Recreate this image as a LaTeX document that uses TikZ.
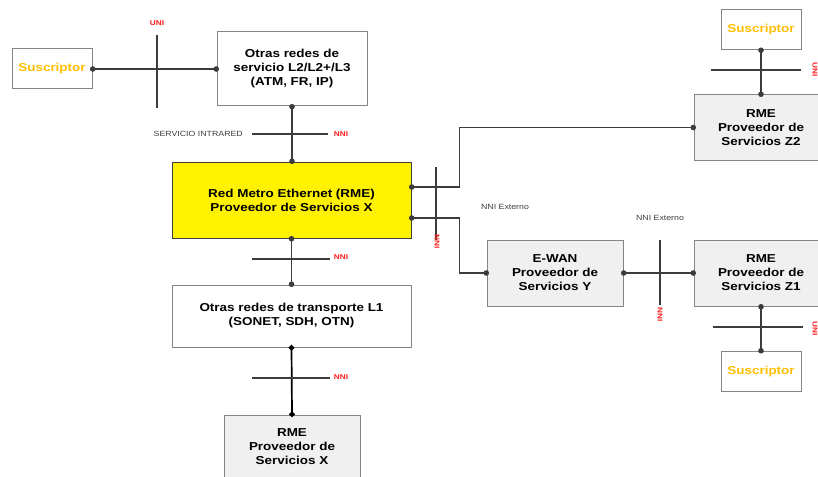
\documentclass[tikz,border=0pt]{standalone}
\usepackage{fontspec}
\setmainfont{Liberation Sans}[FakeStretch=1.17]
\usetikzlibrary{arrows.meta}
\definecolor{boxgray}{HTML}{F0F0F0}
\definecolor{edgegray}{HTML}{858585}
\definecolor{linegray}{HTML}{3C3C3C}
\definecolor{subsgold}{HTML}{FFBF00}
\definecolor{ifacered}{HTML}{FF1A1A}
\begin{document}
\begin{tikzpicture}[x=1pt,y=-1pt,
		every node/.style={align=center,inner sep=0pt},
		box/.style={draw=edgegray,line width=1pt,fill=boxgray,font=\fontsize{11.5}{14}\selectfont\bfseries},
		subs/.style={box,fill=white,text=subsgold,minimum width=80pt,minimum height=40pt},
		link/.style={draw=linegray,line width=1.1pt,{Circle[length=5.5pt]}-{Circle[length=5.5pt]},shorten <=-2.5pt,shorten >=-2.5pt},
		tick/.style={draw=linegray,line width=2pt},
		iface/.style={text=ifacered,font=\fontsize{7}{8}\selectfont\bfseries},
		note/.style={text=linegray,font=\fontsize{7.5}{9}\selectfont}
		]
		\useasboundingbox (0,0) rectangle (818,476);
		\clip (0,0) rectangle (818,476);
		% boxes
		\node[subs] (subsA) at (52,69) {Suscriptor};
		\node[box,fill=white,minimum width=150pt,minimum height=74pt] (otras) at (292,69) {Otras redes de\\servicio L2/L2+/L3\\(ATM, FR, IP)};
		\node[box,fill=yellow,draw=linegray,minimum width=239pt,minimum height=76pt] (rmex) at (291.5,200) {Red Metro Ethernet (RME)\\Proveedor de Servicios X};
		\node[box,fill=white,minimum width=239pt,minimum height=62pt] (trans) at (291.5,316) {Otras redes de transporte L1\\(SONET, SDH, OTN)};
		\node[box,minimum width=136pt,minimum height=64pt] (provx) at (292,447) {RME\\Proveedor de\\Servicios X};
		\node[box,minimum width=136pt,minimum height=66pt] (ewan) at (555,273) {E-WAN\\Proveedor de\\Servicios Y};
		\node[box,minimum width=134pt,minimum height=65pt] (provz2) at (761,127.5) {RME\\Proveedor de\\Servicios Z2};
		\node[box,minimum width=134pt,minimum height=66pt] (provz1) at (761,273) {RME\\Proveedor de\\Servicios Z1};
		\node[subs] (subsB) at (761,29.5) {Suscriptor};
		\node[subs] (subsC) at (761,371.5) {Suscriptor};
		% connectors
		\draw[link] (subsA.east) -- (otras.west);
		\draw[link] (otras.south) -- (otras.south |- rmex.north);
		\draw[link] ([yshift=13pt]rmex.east) -- ++(48,0) |- (provz2.west);
		\draw[link] ([yshift=-18pt]rmex.east) -- ++(48,0) |- (ewan.west);
		\draw[link] (ewan.east) -- (provz1.west);
		\draw[link] (subsB.south) -- (provz2.north);
		\draw[link] (provz1.south) -- (subsC.north);
		\draw[link] (rmex.south) -- (trans.north);
		\draw[link,line width=1.7pt,draw=black] (trans.south) -- (provx.north);
		% interfaces
		\draw[tick] (157,35) -- (157,108);
		\node[iface] (uniA) at (157,23) {UNI};
		\draw[tick,line width=1.5pt] (252,134) -- (328,134);
		\node[iface] (nniA) at (341,134) {NNI};
		\node[note,anchor=east] (intra) at (243,134) {SERVICIO INTRARED};
		\draw[tick] (436,167) -- (436,240);
		\node[iface,rotate=-90,anchor=west] (nniB) at (437,234) {NNI};
		\node[note] (extA) at (505,207) {NNI Externo};
		\draw[tick] (660,240) -- (660,305);
		\node[iface,rotate=-90,anchor=west] (nniC) at (660,307) {NNI};
		\node[note] (extB) at (660,218) {NNI Externo};
		\draw[tick] (711,70) -- (801,70);
		\node[iface,rotate=-90] (uniB) at (815,70) {UNI};
		\draw[tick] (713,327) -- (803,327);
		\node[iface,rotate=-90] (uniC) at (815,329) {UNI};
		\draw[tick] (252,259) -- (330,259);
		\node[iface] (nniD) at (341,257) {NNI};
		\draw[tick,line width=1.5pt] (252,378) -- (330,378);
		\node[iface] (nniE) at (341,377) {NNI};
	\end{tikzpicture}
\end{document}
